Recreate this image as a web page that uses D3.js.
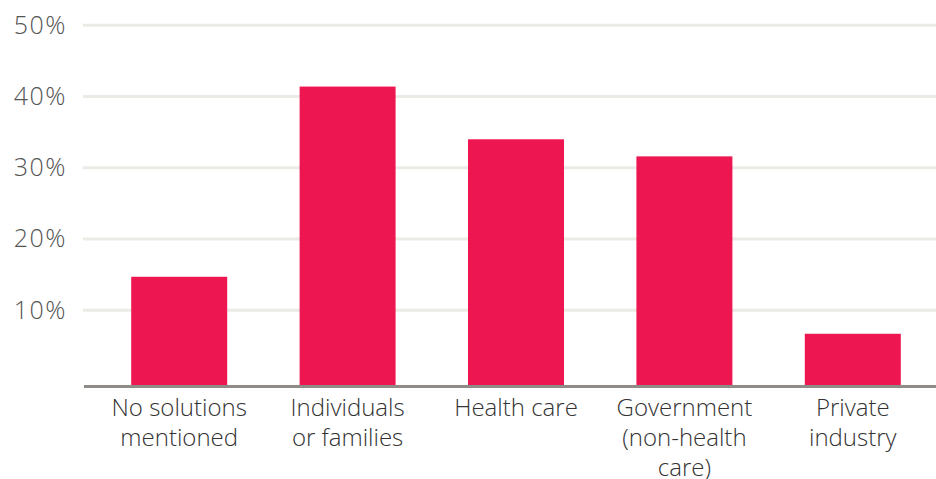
<!DOCTYPE html>
<html>
<head>
<meta charset="utf-8">
<script src="https://cdn.jsdelivr.net/npm/d3@7"></script>
<style>
  html, body { margin: 0; padding: 0; background: #fff; }
  svg text { font-family: "Open Sans", "Liberation Sans", sans-serif; font-weight: 300; }
</style>
</head>
<body>
<svg id="chart" width="936" height="479"></svg>
<script>
// chart data
var categories = ["No solutions mentioned", "Individuals or families", "Health care",
                  "Government (non-health care)", "Private industry"];
// wrapped label lines, one entry per category
var labelLines = [["No solutions", "mentioned"], ["Individuals", "or families"], ["Health care"],
                  ["Government", "(non-health", "care)"], ["Private", "industry"]];
var values = [14.7, 41.4, 34.0, 31.6, 6.7];
var yTicks = [10, 20, 30, 40, 50];

var svg = d3.select("#chart");

// scales
var x = d3.scaleBand().domain(categories).range([95, 937]).paddingInner(0.43).paddingOuter(0.215);
var y = d3.scaleLinear().domain([0, 50]).range([381.5, 25.3]);
var baseY = y(0) + 3.5;

// gridlines
svg.append("g").attr("class", "grid")
  .selectAll("line").data(yTicks).enter().append("line")
  .attr("x1", 83).attr("x2", 936)
  .attr("y1", function(d){ return y(d); })
  .attr("y2", function(d){ return y(d); })
  .style("stroke", "#ebebe6").style("stroke-width", 3);

// y tick labels
svg.append("g").attr("class", "y-labels")
  .selectAll("text").data(yTicks).enter().append("text")
  .attr("x", 67)
  .attr("y", function(d){ return y(d); })
  .attr("dy", "0.33em")
  .attr("text-anchor", "end")
  .style("font-size", "25px").style("letter-spacing", "1.5px").style("fill", "#555")
  .text(function(d){ return d + "%"; });

// bars
svg.append("g").attr("class", "bars")
  .selectAll("rect").data(values).enter().append("rect")
  .attr("x", function(d, i){ return x(categories[i]); })
  .attr("width", x.bandwidth())
  .attr("y", function(d){ return y(d); })
  .attr("height", function(d){ return baseY - y(d); })
  .style("fill", "#ee1651");

// baseline
svg.append("line")
  .attr("x1", 84).attr("x2", 936)
  .attr("y1", baseY + 1.5).attr("y2", baseY + 1.5)
  .style("stroke", "#8f8c88").style("stroke-width", 3);

// category labels
var labels = svg.append("g").attr("class", "x-labels")
  .selectAll("text").data(categories).enter().append("text")
  .attr("text-anchor", "middle")
  .style("font-size", "24px").style("fill", "#333");

labels.each(function(cat, i){
  var t = d3.select(this);
  labelLines[i].forEach(function(line, j){
    t.append("tspan")
      .attr("x", x(cat) + x.bandwidth() / 2)
      .attr("y", 415.5 + j * 30)
      .text(line);
  });
});
</script>
</body>
</html>
